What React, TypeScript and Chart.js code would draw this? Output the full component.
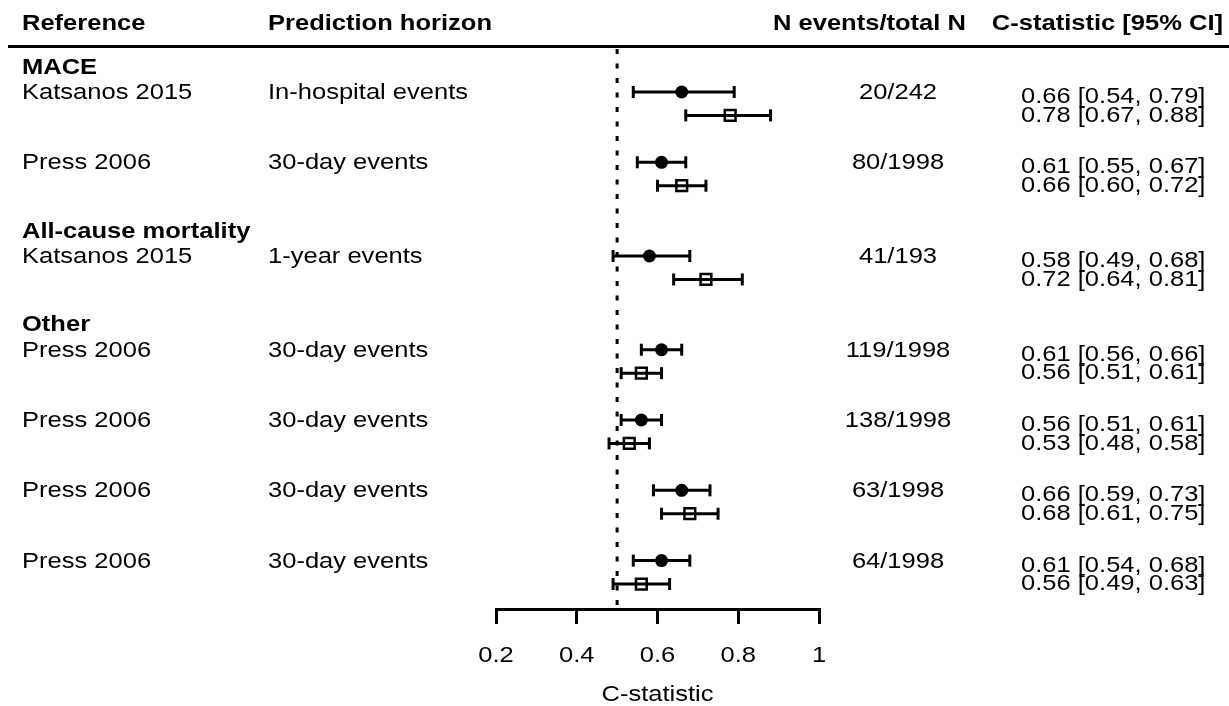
import { useEffect, useRef } from "react";
import { Chart, registerables } from "chart.js";

Chart.register(...registerables);

// ---- table content ----
const headers = ["Reference", "Prediction horizon", "N events/total N", "C-statistic [95% CI]"];
const groups = ["MACE", "All-cause mortality", "Other"];
const groupRows = [0, 7, 11];
const studies = ["Katsanos 2015", "Press 2006", "Katsanos 2015", "Press 2006", "Press 2006", "Press 2006", "Press 2006"];
const horizons = ["In-hospital events", "30-day events", "1-year events", "30-day events", "30-day events", "30-day events", "30-day events"];
const nEvents = ["20/242", "80/1998", "41/193", "119/1998", "138/1998", "63/1998", "64/1998"];
const studyRows = [1, 4, 8, 12, 15, 18, 21];

// first model (filled circles)
const estA = [0.66, 0.61, 0.58, 0.61, 0.56, 0.66, 0.61];
const lowA = [0.54, 0.55, 0.49, 0.56, 0.51, 0.59, 0.54];
const highA = [0.79, 0.67, 0.68, 0.66, 0.61, 0.73, 0.68];
// second model (open squares)
const estB = [0.78, 0.66, 0.72, 0.56, 0.53, 0.68, 0.56];
const lowB = [0.67, 0.6, 0.64, 0.51, 0.48, 0.61, 0.49];
const highB = [0.88, 0.72, 0.81, 0.61, 0.58, 0.75, 0.63];

const xTicks = [0.2, 0.4, 0.6, 0.8, 1];
const xTickLabels = ["0.2", "0.4", "0.6", "0.8", "1"];
const xTitle = "C-statistic";
const refValue = 0.5;

// ---- layout ----
const W = 1229;
const H = 706;
const PLOT_LEFT = 496;
const PLOT_RIGHT = 819;
const AXIS_Y = 609;
const ROW_PX = 23.43;
const Y_MIN = 1 - 92 / ROW_PX;
const Y_MAX = Y_MIN + AXIS_Y / ROW_PX;
const REF_TOP = Y_MIN + 49 / ROW_PX;

const FONT_PX = 22;
const SX = 1.16; // horizontal stretch of the table lettering
const FAMILY = '"Liberation Sans", Arial, Helvetica, sans-serif';
const INK = "#000";

const COL_REF = 22;
const COL_HOR = 268;
const COL_N_HEAD = 773;
const COL_N_CENTER = 898;
const COL_CI_HEAD_RIGHT = 1223;
const COL_CI = 1021;

function drawText(
  ctx: CanvasRenderingContext2D,
  text: string,
  x: number,
  y: number,
  align: "left" | "center" | "right",
  bold = false
) {
  ctx.save();
  ctx.font = `${bold ? "bold " : ""}${FONT_PX}px ${FAMILY}`;
  ctx.textAlign = "left";
  ctx.textBaseline = "alphabetic";
  ctx.fillStyle = INK;
  const w = ctx.measureText(text).width * SX;
  let left = x;
  if (align === "center") left = x - w / 2;
  if (align === "right") left = x - w;
  ctx.translate(left, y);
  ctx.scale(SX, 1);
  ctx.fillText(text, 0, 0);
  ctx.restore();
}

const ciText = (e: number, l: number, h: number) =>
  `${e.toFixed(2)} [${l.toFixed(2)}, ${h.toFixed(2)}]`;

const tablePlugin = {
  id: "forestTable",
  beforeDraw(chart: any) {
    const ctx = chart.ctx as CanvasRenderingContext2D;
    ctx.save();
    ctx.fillStyle = "#fff";
    ctx.fillRect(0, 0, chart.width, chart.height);
    ctx.restore();
  },
  afterDraw(chart: any) {
    const ctx = chart.ctx as CanvasRenderingContext2D;
    const y = chart.scales.y;
    const x = chart.scales.x;
    const rowY = (k: number) => y.getPixelForValue(k);

    // column headers and rule
    const headY = 30;
    drawText(ctx, headers[0], COL_REF, headY, "left", true);
    drawText(ctx, headers[1], COL_HOR, headY, "left", true);
    drawText(ctx, headers[2], COL_N_HEAD, headY, "left", true);
    drawText(ctx, headers[3], COL_CI_HEAD_RIGHT, headY, "right", true);
    ctx.save();
    ctx.strokeStyle = INK;
    ctx.lineWidth = 3;
    ctx.beginPath();
    ctx.moveTo(8, 46.5);
    ctx.lineTo(W, 46.5);
    ctx.stroke();
    ctx.restore();

    // group titles
    groups.forEach((g, i) => {
      drawText(ctx, g, COL_REF, rowY(groupRows[i]) + 5, "left", true);
    });

    // study rows
    studies.forEach((s, i) => {
      const r = studyRows[i];
      const base = rowY(r) + 7;
      drawText(ctx, s, COL_REF, base, "left");
      drawText(ctx, horizons[i], COL_HOR, base, "left");
      drawText(ctx, nEvents[i], COL_N_CENTER, base, "center");
      const ci1 = rowY(r) + 11;
      drawText(ctx, ciText(estA[i], lowA[i], highA[i]), COL_CI, ci1, "left");
      drawText(ctx, ciText(estB[i], lowB[i], highB[i]), COL_CI, ci1 + 18.5, "left");
    });

    // x tick labels and axis title
    xTicks.forEach((v, i) => {
      drawText(ctx, xTickLabels[i], x.getPixelForValue(v), 662, "center");
    });
    drawText(ctx, xTitle, (x.left + x.right) / 2, 701, "center");
  },
};

export default function App() {
  const ref = useRef<HTMLCanvasElement>(null);

  useEffect(() => {
    if (!ref.current) return;

    const whiskers: any[] = [];
    studyRows.forEach((r, i) => {
      whiskers.push({ lo: lowA[i], hi: highA[i], y: r });
      whiskers.push({ lo: lowB[i], hi: highB[i], y: r + 1 });
    });

    const datasets: any[] = [
      {
        label: "model A",
        data: studyRows.map((r, i) => ({ x: estA[i], y: r })),
        pointStyle: "circle",
        pointRadius: 6.5,
        backgroundColor: INK,
        borderColor: INK,
        borderWidth: 0,
        order: 0,
      },
      {
        label: "model B",
        data: studyRows.map((r, i) => ({ x: estB[i], y: r + 1 })),
        pointStyle: "rect",
        pointRadius: 7.6,
        backgroundColor: "rgba(0,0,0,0)",
        borderColor: INK,
        borderWidth: 2.5,
        order: 0,
      },
      ...whiskers.map((w, i) => ({
        label: `ci ${i}`,
        data: [
          { x: w.lo, y: w.y },
          { x: w.hi, y: w.y },
        ],
        showLine: true,
        borderColor: INK,
        borderWidth: 3,
        pointStyle: "line",
        rotation: 90,
        pointRadius: 6,
        pointBorderWidth: 3,
        pointBorderColor: INK,
        order: 1,
      })),
      {
        label: "reference",
        data: [
          { x: refValue, y: REF_TOP },
          { x: refValue, y: Y_MAX },
        ],
        showLine: true,
        borderColor: INK,
        borderWidth: 3,
        borderDash: [5, 9.5],
        borderCapStyle: "butt",
        pointRadius: 0,
        order: 2,
      },
    ];

    const chart = new Chart(ref.current, {
      type: "scatter",
      data: { datasets },
      options: {
        animation: false,
        responsive: false,
        maintainAspectRatio: false,
        events: [],
        layout: {
          autoPadding: false,
          padding: { left: PLOT_LEFT, right: W - PLOT_RIGHT, top: 0, bottom: 0 },
        },
        plugins: {
          legend: { display: false },
          tooltip: { enabled: false },
        },
        scales: {
          x: {
            type: "linear",
            position: "bottom",
            min: xTicks[0],
            max: xTicks[xTicks.length - 1],
            afterBuildTicks: (s: any) => {
              s.ticks = xTicks.map((v) => ({ value: v }));
            },
            afterFit: (s: any) => {
              s.height = H - AXIS_Y;
            },
            ticks: { display: false },
            grid: {
              drawOnChartArea: false,
              drawTicks: true,
              tickLength: 15,
              lineWidth: 3,
              color: INK,
            },
            border: { display: true, width: 3, color: INK },
          },
          y: {
            type: "linear",
            display: false,
            reverse: true,
            min: Y_MIN,
            max: Y_MAX,
          },
        },
      },
      plugins: [tablePlugin],
    } as any);

    return () => chart.destroy();
  }, []);

  return (
    <div style={{ position: "absolute", left: 0, top: 0, width: W, height: H, background: "#fff" }}>
      <canvas ref={ref} width={W} height={H} style={{ display: "block", width: W, height: H }} />
    </div>
  );
}
